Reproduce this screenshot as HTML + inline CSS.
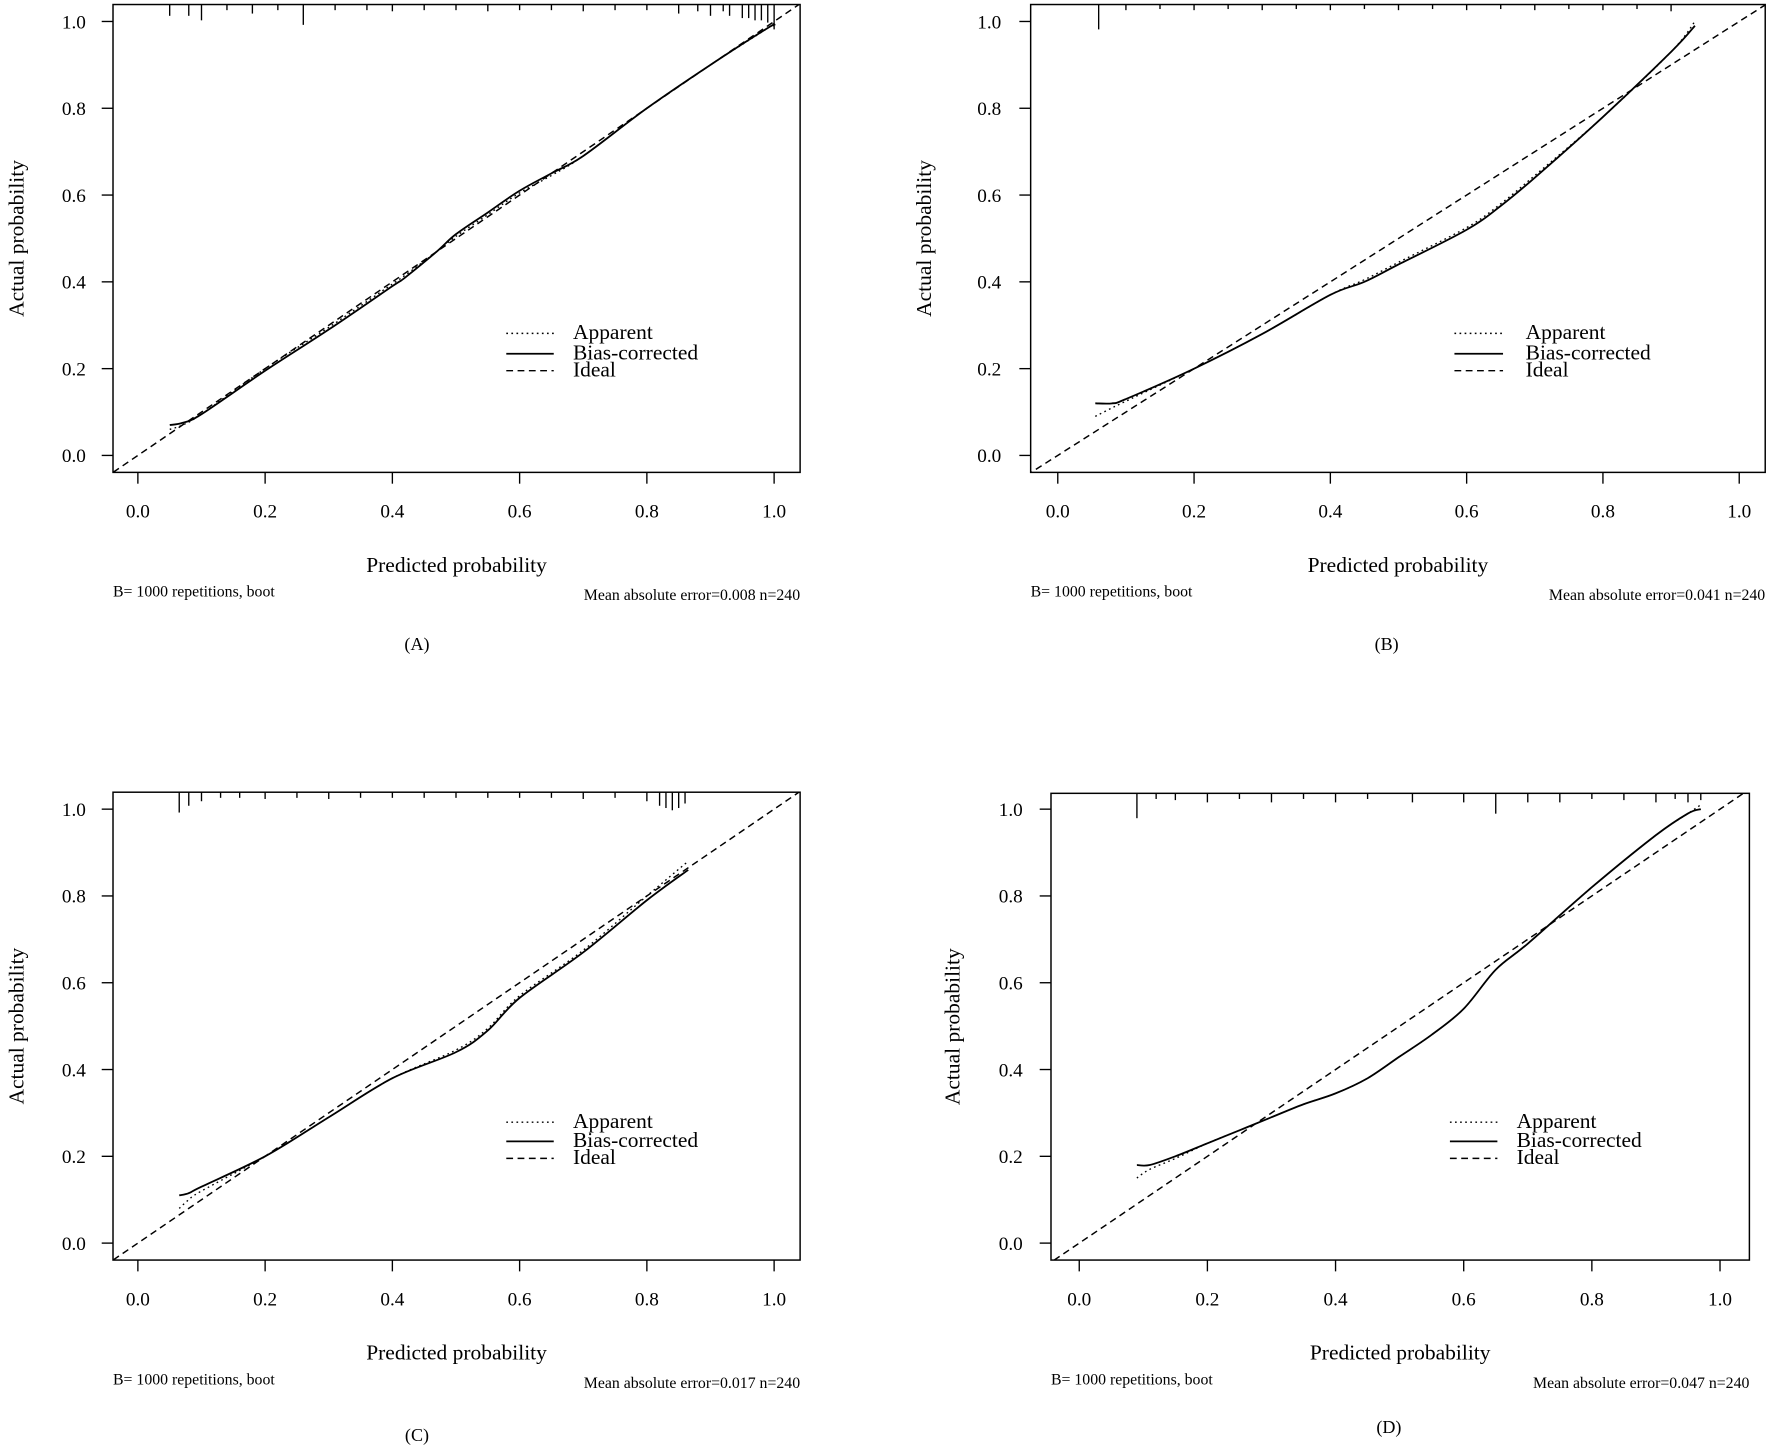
<!DOCTYPE html>
<html><head><meta charset="utf-8"><style>
html,body{margin:0;padding:0;background:#fff;}
svg{display:block;font-family:"Liberation Serif",serif;}
</style></head><body>
<svg id="fig" width="1772" height="1448" viewBox="0 0 1568 1281.3" preserveAspectRatio="none" xmlns="http://www.w3.org/2000/svg"></svg>
<script>
// ---- data ----
const tickVals = [0, 0.2, 0.4, 0.6, 0.8, 1.0];
const tickLabels = ["0.0", "0.2", "0.4", "0.6", "0.8", "1.0"];
const panelLabels = ["(A)", "(B)", "(C)", "(D)"];
const maeValues = ["0.008", "0.041", "0.017", "0.047"];

const biasA_x = [0.05,0.07,0.1,0.2,0.3,0.4,0.42,0.47,0.5,0.55,0.6,0.65,0.7,0.8,0.9,0.99,1.0];
const biasA_y = [0.07,0.075,0.095,0.195,0.29,0.39,0.41,0.47,0.51,0.56,0.61,0.65,0.69,0.8,0.9,0.985,0.99];
const appA_x = [0.05,0.07,0.1,0.2,0.3,0.4,0.42,0.47,0.5,0.55,0.6,0.65,0.7,0.8,0.9,0.99,1.0];
const appA_y = [0.06,0.07,0.095,0.2,0.295,0.395,0.415,0.47,0.505,0.555,0.605,0.645,0.69,0.8,0.9,0.985,1.0];

const biasB_x = [0.055,0.08,0.1,0.2,0.3,0.4,0.45,0.5,0.6,0.65,0.7,0.8,0.9,0.935];
const biasB_y = [0.12,0.12,0.13,0.2,0.28,0.37,0.4,0.44,0.52,0.575,0.64,0.78,0.93,0.99];
const appB_x = [0.055,0.08,0.1,0.2,0.3,0.4,0.45,0.5,0.6,0.65,0.7,0.8,0.9,0.935];
const appB_y = [0.09,0.11,0.125,0.2,0.28,0.37,0.405,0.445,0.525,0.58,0.645,0.78,0.93,1.0];

const biasC_x = [0.065,0.08,0.1,0.2,0.3,0.4,0.5,0.55,0.6,0.7,0.8,0.865];
const biasC_y = [0.11,0.115,0.13,0.2,0.29,0.38,0.44,0.49,0.565,0.67,0.79,0.86];
const appC_x = [0.065,0.08,0.1,0.2,0.3,0.4,0.5,0.55,0.6,0.7,0.8,0.865];
const appC_y = [0.08,0.1,0.12,0.2,0.29,0.38,0.445,0.495,0.57,0.675,0.8,0.88];

const biasD_x = [0.09,0.11,0.15,0.2,0.25,0.3,0.35,0.4,0.45,0.5,0.55,0.6,0.65,0.7,0.8,0.9,0.95,0.97];
const biasD_y = [0.18,0.18,0.2,0.23,0.26,0.29,0.32,0.345,0.38,0.43,0.48,0.54,0.63,0.69,0.82,0.94,0.99,1.0];
const appD_x = [0.09,0.11,0.15,0.2,0.25,0.3,0.35,0.4,0.45,0.5,0.55,0.6,0.65,0.7,0.8,0.9,0.95,0.97];
const appD_y = [0.15,0.17,0.195,0.23,0.26,0.29,0.32,0.345,0.38,0.43,0.48,0.54,0.63,0.69,0.82,0.94,0.99,1.01];

const rugA = [0.05,0.08,0.1,0.14,0.18,0.22,0.26,0.31,0.36,0.4,0.45,0.5,0.55,0.6,0.65,0.7,0.75,0.8,0.85,0.88,0.9,0.92,0.93,0.95,0.96,0.97,0.98,0.99,1.0];
const rugAlen = [10,10,14,5,8,5,18,5,5,6,5,5,6,5,5,6,5,5,8,6,10,6,10,12,12,14,14,16,22];
const rugB = [0.06,0.1,0.15,0.2,0.25,0.3,0.35,0.4,0.45,0.5,0.55,0.6,0.65,0.7,0.75,0.8,0.85,0.9];
const rugBlen = [22,5,4,5,4,5,4,5,4,5,4,5,4,5,4,5,4,6];
const rugC = [0.065,0.08,0.1,0.13,0.16,0.2,0.25,0.3,0.35,0.4,0.45,0.5,0.55,0.6,0.65,0.7,0.75,0.8,0.82,0.83,0.84,0.85,0.86];
const rugClen = [18,12,8,5,5,6,5,6,5,5,5,5,5,5,5,6,5,8,12,14,16,14,10];
const rugD = [0.09,0.12,0.15,0.2,0.25,0.3,0.35,0.4,0.45,0.52,0.6,0.65,0.7,0.75,0.8,0.85,0.9,0.93,0.95,0.97];
const rugDlen = [22,5,6,8,5,8,5,8,5,8,8,18,8,8,5,6,8,5,8,6];

// ---- layout (preview coords) ----
const panels = [
 {id:"a", box:[100,4,708,418], x0:122, x1:685, y0:403, y1:19, ylx:15, tlx:76, leg:[448,490,507], legY:[295,313,328], xlabY:500, footY:528, capY:570, bias:[biasA_x,biasA_y], app:[appA_x,appA_y], rug:[rugA,rugAlen]},
 {id:"b", box:[912,4,1562,418], x0:936, x1:1539, y0:403, y1:19, ylx:818, tlx:886, leg:[1287,1330,1350], legY:[295,313,328], xlabY:500, footY:528, capY:570, bias:[biasB_x,biasB_y], app:[appB_x,appB_y], rug:[rugB,rugBlen]},
 {id:"c", box:[100,701,708,1115], x0:122, x1:685, y0:1100, y1:716, ylx:15, tlx:76, leg:[448,490,507], legY:[993,1010,1025], xlabY:1197, footY:1225, capY:1270, bias:[biasC_x,biasC_y], app:[appC_x,appC_y], rug:[rugC,rugClen]},
 {id:"d", box:[930,702,1548,1115], x0:955, x1:1522, y0:1100, y1:716, ylx:843, tlx:905, leg:[1283,1325,1342], legY:[993,1010,1025], xlabY:1197, footY:1225, capY:1263, bias:[biasD_x,biasD_y], app:[appD_x,appD_y], rug:[rugD,rugDlen]}
];

const NS="http://www.w3.org/2000/svg";
const svg=document.getElementById('fig');
function mk(tag, attrs, parent, text){
  const e=document.createElementNS(NS,tag);
  for(const k in attrs) e.setAttribute(k,attrs[k]);
  if(text!==undefined) e.textContent=text;
  (parent||svg).appendChild(e); return e;
}
function smoothPath(P){
  let d='M'+P[0][0].toFixed(1)+','+P[0][1].toFixed(1);
  for(let i=0;i<P.length-1;i++){
    const p0=P[i-1]||P[i], p1=P[i], p2=P[i+1], p3=P[i+2]||P[i+1];
    const c1=[p1[0]+(p2[0]-p0[0])/6, p1[1]+(p2[1]-p0[1])/6];
    const c2=[p2[0]-(p3[0]-p1[0])/6, p2[1]-(p3[1]-p1[1])/6];
    d+=' C'+c1[0].toFixed(1)+','+c1[1].toFixed(1)+' '+c2[0].toFixed(1)+','+c2[1].toFixed(1)+' '+p2[0].toFixed(1)+','+p2[1].toFixed(1);
  }
  return d;
}

panels.forEach((p,i)=>{
  const g=mk('g',{});
  
  
  const sx=v=>p.x0+(p.x1-p.x0)*v;
  const sy=v=>p.y0+(p.y1-p.y0)*v;
  const [L,T,R,B]=p.box;
  const clip=mk('clipPath',{id:'clip'+p.id},g);
  mk('rect',{x:L,y:T,width:R-L,height:B-T},clip);
  const box=mk('rect',{x:L,y:T,width:R-L,height:B-T,fill:'none',stroke:'#000','stroke-width':1.3},g);
  
  
  tickVals.forEach((v,k)=>{
    mk('line',{x1:sx(v),x2:sx(v),y1:B,y2:B+10,stroke:'#000','stroke-width':1.2},g);
    const xt=mk('text',{x:sx(v),y:B+40,'text-anchor':'middle','font-size':17},g,tickLabels[k]);
    
    
    mk('line',{x1:L,x2:L-10,y1:sy(v),y2:sy(v),stroke:'#000','stroke-width':1.2},g);
    const yt=mk('text',{x:p.tlx,y:sy(v)+6,'text-anchor':'end','font-size':17},g,tickLabels[k]);
    
    
  });
  p.rug[0].forEach((v,k)=>{
    const r=mk('line',{x1:sx(v),x2:sx(v),y1:T,y2:T+p.rug[1][k],stroke:'#000','stroke-width':1.2},g);
    
    
  });
  const cg=mk('g',{'clip-path':'url(#clip'+p.id+')'},g);
  const ideal=mk('line',{x1:sx(-0.2),y1:sy(-0.2),x2:sx(1.2),y2:sy(1.2),stroke:'#000','stroke-width':1.3,'stroke-dasharray':'6,4'},cg);
  
  
  const pts=(xs,ys)=>xs.map((x,k)=>[sx(x),sy(ys[k])]);
  const ap=mk('path',{d:smoothPath(pts(p.app[0],p.app[1])),fill:'none',stroke:'#000','stroke-width':1.2,'stroke-dasharray':'1.5,3'},cg);
  
  
  const bc=mk('path',{d:smoothPath(pts(p.bias[0],p.bias[1])),fill:'none',stroke:'#000','stroke-width':1.6,'stroke-linejoin':'round'},cg);
  
  
  const lg=mk('g',{},g);
  
  
  const names=['Apparent','Bias-corrected','Ideal'];
  const dash=['1.5,3','none','6,4'];
  names.forEach((n,k)=>{
    mk('line',{x1:p.leg[0],x2:p.leg[1],y1:p.legY[k],y2:p.legY[k],stroke:'#000','stroke-width':k==1?1.6:1.3,'stroke-dasharray':dash[k]},lg);
    const t=mk('text',{x:p.leg[2],y:p.legY[k]+5,'font-size':19},lg,n);
    
    
  });
  const xl=mk('text',{x:(L+R)/2,y:p.xlabY+6,'text-anchor':'middle','font-size':19},g,'Predicted probability');
  
  
  const cy=(T+B)/2;
  const yl=mk('text',{x:p.ylx,y:cy,'text-anchor':'middle','font-size':19,transform:'rotate(-90 '+p.ylx+' '+cy+') translate(0 6)'},g,'Actual probability');
  
  
  const f1=mk('text',{x:L,y:p.footY,'font-size':14},g,'B= 1000 repetitions, boot');
  
  
  const f2=mk('text',{x:R,y:p.footY+3,'text-anchor':'end','font-size':14},g,'Mean absolute error='+maeValues[i]+' n=240');
  
  
  const cap=mk('text',{x:(L+R)/2-(i%2?10:35),y:p.capY+5,'text-anchor':'middle','font-size':16},g,panelLabels[i]);
  
  
});
</script>
</body></html>
